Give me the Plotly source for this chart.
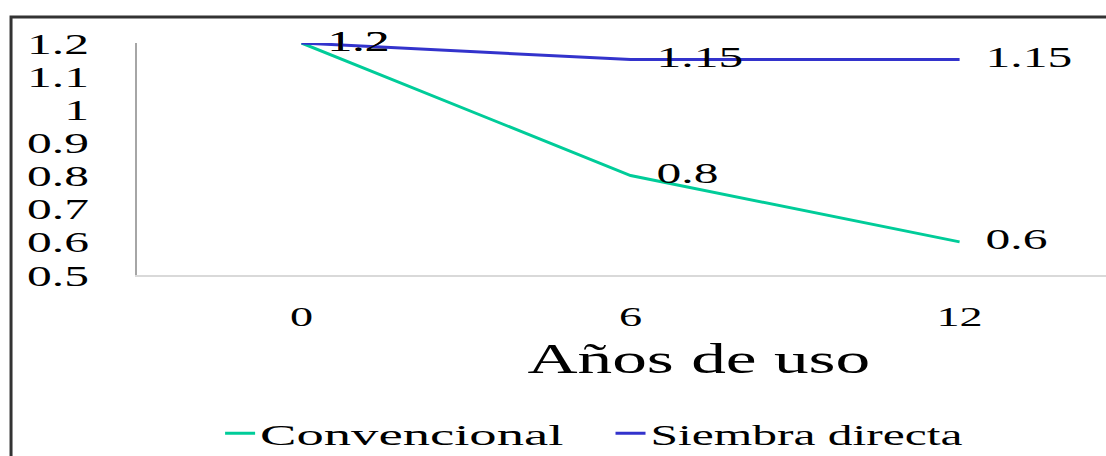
import plotly.graph_objects as go

# Datos
anios = ["0", "6", "12"]
convencional = [1.2, 0.8, 0.6]
siembra_directa = [1.2, 1.15, 1.15]
y_ticks = [0.5, 0.6, 0.7, 0.8, 0.9, 1.0, 1.1, 1.2]
y_tick_text = ["0.5", "0.6", "0.7", "0.8", "0.9", "1", "1.1", "1.2"]

fuente = "Liberation Serif, Times New Roman, serif"

fig = go.Figure()

fig.add_trace(go.Scatter(
    x=anios, y=convencional, name="Convencional",
    mode="lines+markers+text",
    line=dict(color="#00cc99", width=3),
    marker=dict(size=40, color="rgba(0,0,0,0)"),
    text=[str(v) for v in convencional],
    textposition="middle right",
    textfont=dict(family=fuente, size=30, color="black"),
    cliponaxis=False,
    legend="legend",
))
fig.add_trace(go.Scatter(
    x=anios, y=siembra_directa, name="Siembra directa",
    mode="lines+markers+text",
    line=dict(color="#3333cc", width=3),
    marker=dict(size=40, color="rgba(0,0,0,0)"),
    text=[str(v) for v in siembra_directa],
    textposition="middle right",
    textfont=dict(family=fuente, size=30, color="black"),
    cliponaxis=False,
    legend="legend2",
))

# Marco exterior del grafico
fig.add_shape(type="rect", xref="paper", yref="paper",
              x0=-0.13, x1=1.05, y0=-0.9, y1=1.112,
              line=dict(color="#333333", width=3), layer="above")

# Titulo del eje x
fig.add_annotation(text="Años de uso", xref="paper", yref="paper",
                   x=0.58, y=-0.362, xanchor="center", yanchor="middle", showarrow=False,
                   font=dict(family=fuente, size=42, color="black"))

leyenda = dict(orientation="h", xref="container", yref="container", yanchor="middle",
               y=0.05, entrywidth=420, bgcolor="rgba(0,0,0,0)",
               font=dict(family=fuente, size=30, color="black"))

fig.update_layout(
    width=1106, height=456,
    margin=dict(l=137, r=0, t=43, b=181, autoexpand=False),
    plot_bgcolor="white", paper_bgcolor="white",
    font=dict(family=fuente, size=30, color="black"),
    showlegend=True,
    legend=dict(leyenda, x=0.199),
    legend2=dict(leyenda, x=0.552),
)
fig.update_xaxes(type="category", range=[-0.5, 2.445], showgrid=False, zeroline=False,
                 showline=True, linecolor="#d9d9d9", linewidth=2, ticks="",
                 ticklabelstandoff=15, tickfont=dict(family=fuente, size=28))
fig.update_yaxes(range=[0.5, 1.2], tickvals=y_ticks, ticktext=y_tick_text,
                 showgrid=False, zeroline=False, showline=True, linecolor="#a6a6a6",
                 linewidth=2, ticks="", ticklabelstandoff=40,
                 tickfont=dict(family=fuente, size=30))

# El texto del original esta estirado a lo ancho; quitar tambien el margen del body
estirar = """
document.body.style.margin = '0';
var gd = document.getElementById('{plot_id}');
gd.querySelectorAll('text').forEach(function(t) {
    var f = t.classList.contains('legendtext') ? 1.82 : 1.65;
    var w = t.getComputedTextLength();
    if (w > 0) {
        t.setAttribute('textLength', (w * f).toFixed(1));
        t.setAttribute('lengthAdjust', 'spacingAndGlyphs');
    }
});
"""

fig.write_html("out.html", post_script=estirar, config={"displayModeBar": False})
